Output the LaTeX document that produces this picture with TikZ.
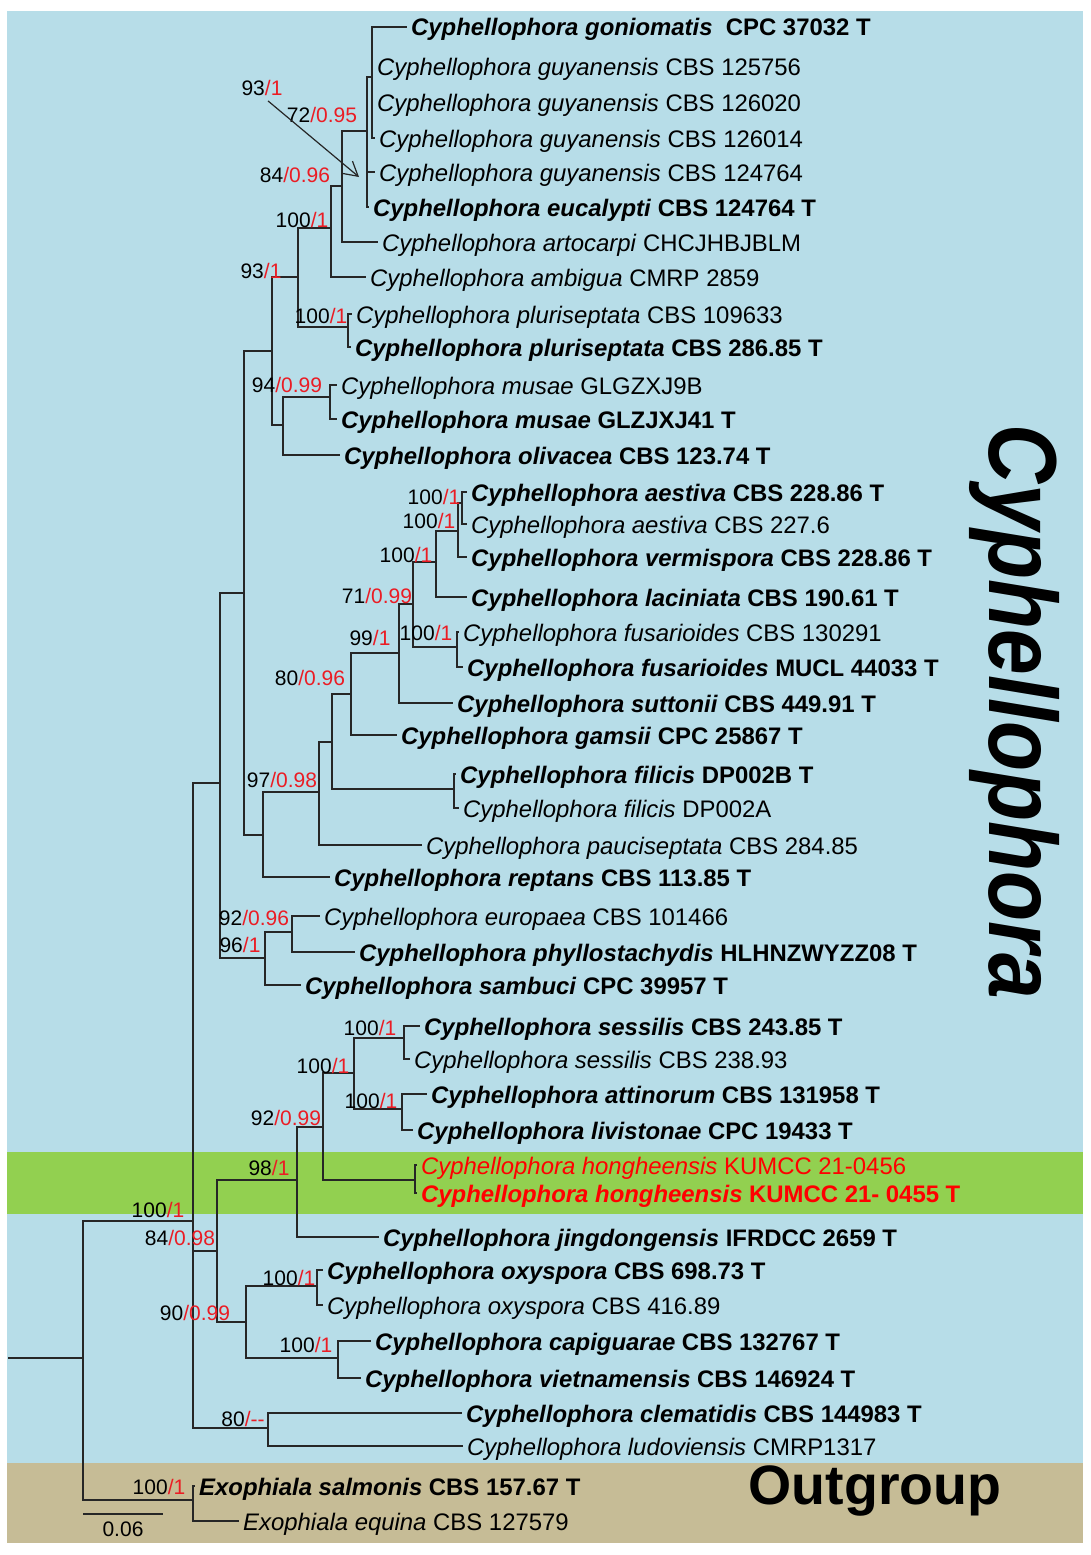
\documentclass[tikz,border=0pt]{standalone}
\usepackage{fontspec}
\setmainfont{Liberation Sans}
\usetikzlibrary{arrows.meta}
\definecolor{treebg}{RGB}{183,221,232}
\definecolor{newsp}{RGB}{146,208,80}
\definecolor{outbg}{RGB}{198,188,150}
\definecolor{bsred}{RGB}{235,28,36}
\newcommand{\taxb}[2]{\textbf{\textit{#1}} \textbf{#2}}
\newcommand{\taxn}[2]{\textit{#1} #2}
\newcommand{\bv}[2]{#1\textcolor{bsred}{/#2}}
\tikzset{
  br/.style={draw=black!85, line width=1.2pt},
  leaf/.style={anchor=west, inner xsep=4pt, inner ysep=1pt, text height=21pt, text depth=3pt, font=\fontsize{23.9}{26}\selectfont},
  bsv/.style={inner sep=0pt, font=\fontsize{21}{23}\selectfont},
  newleaf/.style={leaf, text=red}
}

\begin{document}
\begin{tikzpicture}[x=1pt, y=-1pt]
\useasboundingbox (0,0) rectangle (1091,1555);
% Background bands
\fill[treebg] (7,11) rectangle (1083,1463);
\fill[newsp] (7,1152) rectangle (1083,1214);
\fill[outbg] (7,1463) rectangle (1083,1543);
% Internal nodes
\coordinate (rt) at (8,1358);
\coordinate (n0) at (83,1358);
\coordinate (nIn) at (193,1221);
\coordinate (nOut) at (193,1500);
\coordinate (nB) at (220,783);
\coordinate (nC) at (217,1251);
\coordinate (nD) at (268,1428);
\coordinate (nM) at (244,593);
\coordinate (nN) at (265,958);
\coordinate (nP) at (272,351);
\coordinate (nQ) at (263,835);
\coordinate (nZ) at (298,277);
\coordinate (nAA) at (283,425);
\coordinate (nAB) at (331,228);
\coordinate (nPlu) at (348,327);
\coordinate (nAC) at (342,186);
\coordinate (nAD) at (367,131);
\coordinate (nAE) at (372,77);
\coordinate (nMus) at (330,397);
\coordinate (nR) at (319,792);
\coordinate (nS) at (332,742);
\coordinate (nT) at (351,694);
\coordinate (nFil) at (454,789);
\coordinate (nU) at (399,653);
\coordinate (nV) at (413,604);
\coordinate (nW) at (436,562);
\coordinate (nFus) at (457,647);
\coordinate (nX) at (458,531);
\coordinate (nY) at (462,503);
\coordinate (nO) at (292,932);
\coordinate (nE) at (297,1180);
\coordinate (nF) at (246,1322);
\coordinate (nG) at (323,1127);
\coordinate (nH) at (354,1073);
\coordinate (nHon) at (415,1180);
\coordinate (nI) at (404,1038);
\coordinate (nJ) at (402,1109);
\coordinate (nK) at (317,1286);
\coordinate (nL) at (338,1358);
% Leaves
\node (gon) [leaf] at (407,27) {\taxb{Cyphellophora goniomatis}{\ CPC 37032 T}};
\node (guy1) [leaf] at (373,66) {\taxn{Cyphellophora guyanensis}{CBS 125756}};
\node (guy2) [leaf] at (373,102) {\taxn{Cyphellophora guyanensis}{CBS 126020}};
\node (guy3) [leaf] at (375,138) {\taxn{Cyphellophora guyanensis}{CBS 126014}};
\node (guy4) [leaf] at (375,172) {\taxn{Cyphellophora guyanensis}{CBS 124764}};
\node (euc) [leaf] at (369,207) {\taxb{Cyphellophora eucalypti}{CBS 124764 T}};
\node (art) [leaf] at (378,242) {\taxn{Cyphellophora artocarpi}{CHCJHBJBLM}};
\node (amb) [leaf] at (366,277) {\taxn{Cyphellophora ambigua}{CMRP 2859}};
\node (plu1) [leaf] at (352,314) {\taxn{Cyphellophora pluriseptata}{CBS 109633}};
\node (plu2) [leaf] at (351,347) {\taxb{Cyphellophora pluriseptata}{CBS 286.85 T}};
\node (mus1) [leaf] at (337,385) {\taxn{Cyphellophora musae}{GLGZXJ9B}};
\node (mus2) [leaf] at (337,419) {\taxb{Cyphellophora musae}{GLZJXJ41 T}};
\node (oli) [leaf] at (340,455) {\taxb{Cyphellophora olivacea}{CBS 123.74 T}};
\node (aes1) [leaf] at (467,492) {\taxb{Cyphellophora aestiva}{CBS 228.86 T}};
\node (aes2) [leaf] at (467,524) {\taxn{Cyphellophora aestiva}{CBS 227.6}};
\node (ver) [leaf] at (467,557) {\taxb{Cyphellophora vermispora}{CBS 228.86 T}};
\node (lac) [leaf] at (467,597) {\taxb{Cyphellophora laciniata}{CBS 190.61 T}};
\node (fus1) [leaf] at (459,632) {\taxn{Cyphellophora fusarioides}{CBS 130291}};
\node (fus2) [leaf] at (463,667) {\taxb{Cyphellophora fusarioides}{MUCL 44033 T}};
\node (sut) [leaf] at (453,703) {\taxb{Cyphellophora suttonii}{CBS 449.91 T}};
\node (gam) [leaf] at (397,735) {\taxb{Cyphellophora gamsii}{CPC 25867 T}};
\node (fil1) [leaf] at (456,774) {\taxb{Cyphellophora filicis}{DP002B T}};
\node (fil2) [leaf] at (459,808) {\taxn{Cyphellophora filicis}{DP002A}};
\node (pau) [leaf] at (422,845) {\taxn{Cyphellophora pauciseptata}{CBS 284.85}};
\node (rep) [leaf] at (330,877) {\taxb{Cyphellophora reptans}{CBS 113.85 T}};
\node (eur) [leaf] at (320,916) {\taxn{Cyphellophora europaea}{CBS 101466}};
\node (phy) [leaf] at (355,952) {\taxb{Cyphellophora phyllostachydis}{HLHNZWYZZ08 T}};
\node (sam) [leaf] at (301,985) {\taxb{Cyphellophora sambuci}{CPC 39957 T}};
\node (ses1) [leaf] at (420,1026) {\taxb{Cyphellophora sessilis}{CBS 243.85 T}};
\node (ses2) [leaf] at (410,1059) {\taxn{Cyphellophora sessilis}{CBS 238.93}};
\node (att) [leaf] at (427,1094) {\taxb{Cyphellophora attinorum}{CBS 131958 T}};
\node (liv) [leaf] at (413,1130) {\taxb{Cyphellophora livistonae}{CPC 19433 T}};
\node (hon1) [newleaf] at (417,1165) {\taxn{Cyphellophora hongheensis}{KUMCC 21-0456}};
\node (hon2) [newleaf] at (417,1193) {\taxb{Cyphellophora hongheensis}{KUMCC 21- 0455 T}};
\node (jin) [leaf] at (379,1237) {\taxb{Cyphellophora jingdongensis}{IFRDCC 2659 T}};
\node (oxy1) [leaf] at (323,1270) {\taxb{Cyphellophora oxyspora}{CBS 698.73 T}};
\node (oxy2) [leaf] at (323,1305) {\taxn{Cyphellophora oxyspora}{CBS 416.89}};
\node (cap) [leaf] at (371,1341) {\taxb{Cyphellophora capiguarae}{CBS 132767 T}};
\node (vie) [leaf] at (361,1378) {\taxb{Cyphellophora vietnamensis}{CBS 146924 T}};
\node (cle) [leaf] at (462,1413) {\taxb{Cyphellophora clematidis}{CBS 144983 T}};
\node (lud) [leaf] at (463,1446) {\taxn{Cyphellophora ludoviensis}{CMRP1317}};
\node (sal) [leaf] at (195,1486) {\taxb{Exophiala salmonis}{CBS 157.67 T}};
\node (equ) [leaf] at (239,1521) {\taxn{Exophiala equina}{CBS 127579}};
% Branches
\draw [br] (rt) -- (n0);
\draw [br] (n0) |- (nIn);
\draw [br] (n0) |- (nOut);
\draw [br] (nOut) |- (sal.west);
\draw [br] (nOut) |- (equ.west);
\draw [br] (nIn) |- (nB);
\draw [br] (nIn) |- (nC);
\draw [br] (nIn) |- (nD);
\draw [br] (nB) |- (nM);
\draw [br] (nB) |- (nN);
\draw [br] (nM) |- (nP);
\draw [br] (nM) |- (nQ);
\draw [br] (nP) |- (nZ);
\draw [br] (nP) |- (nAA);
\draw [br] (nZ) |- (nAB);
\draw [br] (nZ) |- (nPlu);
\draw [br] (nAB) |- (nAC);
\draw [br] (nAB) |- (amb.west);
\draw [br] (nAC) |- (nAD);
\draw [br] (nAC) |- (art.west);
\draw [br] (nAD) |- (nAE);
\draw [br] (nAD) |- (guy4.west);
\draw [br] (nAD) |- (euc.west);
\draw [br] (nAE) |- (gon.west);
\draw [br] (nAE) |- (guy1.west);
\draw [br] (nAE) |- (guy2.west);
\draw [br] (nAE) |- (guy3.west);
\draw [br] (nPlu) |- (plu1.west);
\draw [br] (nPlu) |- (plu2.west);
\draw [br] (nAA) |- (nMus);
\draw [br] (nAA) |- (oli.west);
\draw [br] (nMus) |- (mus1.west);
\draw [br] (nMus) |- (mus2.west);
\draw [br] (nQ) |- (nR);
\draw [br] (nQ) |- (rep.west);
\draw [br] (nR) |- (nS);
\draw [br] (nR) |- (pau.west);
\draw [br] (nS) |- (nT);
\draw [br] (nS) |- (nFil);
\draw [br] (nFil) |- (fil1.west);
\draw [br] (nFil) |- (fil2.west);
\draw [br] (nT) |- (nU);
\draw [br] (nT) |- (gam.west);
\draw [br] (nU) |- (nV);
\draw [br] (nU) |- (sut.west);
\draw [br] (nV) |- (nW);
\draw [br] (nV) |- (nFus);
\draw [br] (nFus) |- (fus1.west);
\draw [br] (nFus) |- (fus2.west);
\draw [br] (nW) |- (nX);
\draw [br] (nW) |- (lac.west);
\draw [br] (nX) |- (nY);
\draw [br] (nX) |- (ver.west);
\draw [br] (nY) |- (aes1.west);
\draw [br] (nY) |- (aes2.west);
\draw [br] (nN) |- (nO);
\draw [br] (nN) |- (sam.west);
\draw [br] (nO) |- (eur.west);
\draw [br] (nO) |- (phy.west);
\draw [br] (nC) |- (nE);
\draw [br] (nC) |- (nF);
\draw [br] (nE) |- (nG);
\draw [br] (nE) |- (jin.west);
\draw [br] (nG) |- (nH);
\draw [br] (nG) |- (nHon);
\draw [br] (nH) |- (nI);
\draw [br] (nH) |- (nJ);
\draw [br] (nI) |- (ses1.west);
\draw [br] (nI) |- (ses2.west);
\draw [br] (nJ) |- (att.west);
\draw [br] (nJ) |- (liv.west);
\draw [br] (nHon) |- (hon1.west);
\draw [br] (nHon) |- (hon2.west);
\draw [br] (nF) |- (nK);
\draw [br] (nF) |- (nL);
\draw [br] (nK) |- (oxy1.west);
\draw [br] (nK) |- (oxy2.west);
\draw [br] (nL) |- (cap.west);
\draw [br] (nL) |- (vie.west);
\draw [br] (nD) |- (cle.west);
\draw [br] (nD) |- (lud.west);
% Support values
\node (s1) [bsv] at (262,88) {\bv{93}{1}};
\node (s2) [bsv] at (322,115) {\bv{72}{0.95}};
\node (s3) [bsv] at (295,175) {\bv{84}{0.96}};
\node (s4) [bsv] at (302,220) {\bv{100}{1}};
\node (s5) [bsv] at (261,271) {\bv{93}{1}};
\node (s6) [bsv] at (321,316) {\bv{100}{1}};
\node (s7) [bsv] at (287,385) {\bv{94}{0.99}};
\node (s8) [bsv] at (434,497) {\bv{100}{1}};
\node (s9) [bsv] at (429,521) {\bv{100}{1}};
\node (s10) [bsv] at (406,555) {\bv{100}{1}};
\node (s11) [bsv] at (377,596) {\bv{71}{0.99}};
\node (s12) [bsv] at (370,638) {\bv{99}{1}};
\node (s13) [bsv] at (426,633) {\bv{100}{1}};
\node (s14) [bsv] at (310,678) {\bv{80}{0.96}};
\node (s15) [bsv] at (282,780) {\bv{97}{0.98}};
\node (s16) [bsv] at (254,918) {\bv{92}{0.96}};
\node (s17) [bsv] at (240,945) {\bv{96}{1}};
\node (s18) [bsv] at (370,1028) {\bv{100}{1}};
\node (s19) [bsv] at (323,1066) {\bv{100}{1}};
\node (s20) [bsv] at (371,1101) {\bv{100}{1}};
\node (s21) [bsv] at (286,1118) {\bv{92}{0.99}};
\node (s22) [bsv] at (269,1168) {\bv{98}{1}};
\node (s23) [bsv] at (158,1210) {\bv{100}{1}};
\node (s24) [bsv] at (180,1238) {\bv{84}{0.98}};
\node (s25) [bsv] at (289,1278) {\bv{100}{1}};
\node (s26) [bsv] at (195,1313) {\bv{90}{0.99}};
\node (s27) [bsv] at (306,1345) {\bv{100}{1}};
\node (s28) [bsv] at (243,1419) {\bv{80}{-{}-}};
\node (s29) [bsv] at (159,1487) {\bv{100}{1}};
% Pointer to the short branch
\coordinate (atip) at (359,177);
\draw [br, -{Straight Barb[length=14pt,width=16pt,line width=1.2pt]}] ([xshift=6pt,yshift=-5pt]s1.south) -- (atip);
% Scale bar
\coordinate (sb0) at (83,1514);
\coordinate (sb1) at (163,1514);
\draw [br] (sb0) -- (sb1) node (sblab) [midway, below=4pt, font=\fontsize{21}{23}\selectfont] {0.06};
% Group names
\node (genus) [xscale=1.18, rotate=-90, font=\fontsize{82}{82}\selectfont\bfseries\itshape] at (1015,712) {Cyphellophora};
\node (outg) [font=\fontsize{55.5}{56}\selectfont\bfseries] at (875,1491) {Outgroup};
\end{tikzpicture}
\end{document}
